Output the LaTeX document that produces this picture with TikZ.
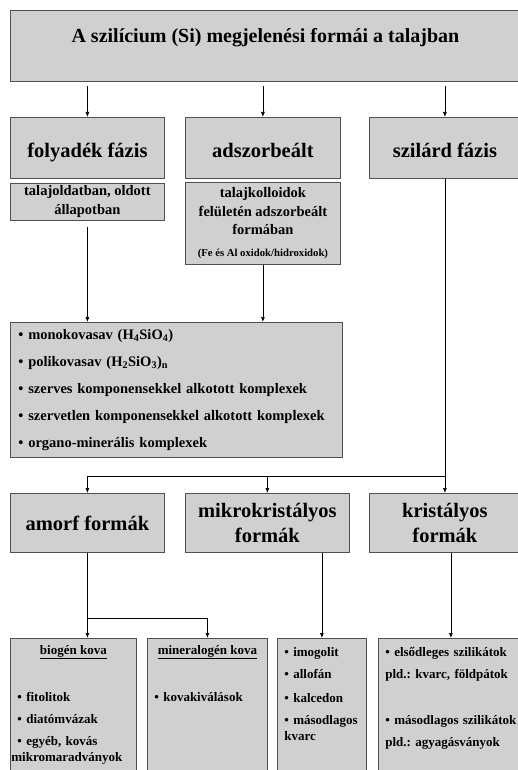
\documentclass[tikz,border=0pt]{standalone}
\usepackage{fontspec}
\setmainfont{Liberation Serif}
\usepackage{tikz}
\frenchspacing
\definecolor{boxgray}{RGB}{208,208,208}
\definecolor{boxline}{RGB}{80,80,80}
\tikzset{
  title_font/.style = {font=\bfseries\fontsize{20}{24}\selectfont},
  head_font/.style = {font=\bfseries\fontsize{20.5}{24.5}\selectfont},
  sub_font/.style = {font=\bfseries\fontsize{14.5}{18.5}\selectfont},
  list_font/.style = {font=\bfseries\fontsize{14.5}{27}\selectfont},
  item_font/.style = {font=\bfseries\fontsize{13}{16.5}\selectfont},
  block_background/.style = {fill=boxgray, draw=boxline, line width=0.8pt}
}
\tikzset{
  title/.style = {title_font, block_background, anchor=north west, inner sep=0,
    minimum width=510, text height=32pt, text depth=39pt},
  head/.style = {head_font, block_background, align=center, anchor=north west,
    inner sep=0, minimum height=59},
  phase/.style = {head, text height=40pt, text depth=21pt},
  sub/.style = {sub_font, block_background, align=center, inner sep=0},
  list/.style = {list_font, block_background, align=left, anchor=north west,
    inner xsep=8, inner ysep=0},
  leaf/.style = {item_font, block_background, align=left, anchor=north west,
    inner xsep=7, inner ysep=0, text depth=150pt},
  leaf_title/.style = {item_font, anchor=base},
  link/.style = {line width=0.7pt},
  arrow/.style = {link, -{Latex[length=5pt, width=4pt]}}
}
\usetikzlibrary{arrows.meta, positioning}

\begin{document}
\begin{tikzpicture}[x=1pt, y=-1pt]{
        \clip (0,0) rectangle (518,770);

        % Title
        \node[title] at (10,10) (si) {A szilícium (Si) megjelenési formái a talajban};

        % Phases
        \node[phase, minimum width=154] at (10,117) (fol) {folyadék fázis};
        \node[phase, minimum width=155] at (185,117) (adsz) {adszorbeált};
        \node[phase, minimum width=151] at (369,117) (szil) {szilárd fázis};

        \node[sub, below=4pt of fol, minimum width=154, minimum height=37] (fol_sub) {
            talajoldatban, oldott\\
            állapotban};
        \node[sub, below=3pt of adsz, minimum width=155, minimum height=82] (adsz_sub) {
            talajkolloidok\\
            felületén adszorbeált\\
            formában\\[3pt]
            {\fontsize{10.7}{13}\selectfont (Fe és Al oxidok/hidroxidok)}};

        % Dissolved forms
        \node[list, minimum width=332, minimum height=135, text width=316] at (10,322) (oldat) {
            • monokovasav (H\textsubscript{4}SiO\textsubscript{4})\\
            • polikovasav (H\textsubscript{2}SiO\textsubscript{3})\textsubscript{n}\\
            • szerves komponensekkel alkotott komplexek\\
            • szervetlen komponensekkel alkotott komplexek\\
            • organo-minerális komplexek};

        % Solid forms
        \node[head, minimum width=154] at (10,493) (amorf) {amorf formák};
        \node[head, minimum width=164] at (185,493) (mikro) {
            mikrokristályos\\
            formák};
        \node[head, minimum width=151] at (369,493) (krist) {
            kristályos\\
            formák};

        % Leaves
        \node[leaf, text width=112, text height=63pt] at (10,638) (biogen) {
            • fitolitok\\[5.5pt]
            • diatómvázak\\[5.5pt]
            • egyéb, kovás\\
            \hspace*{-6pt}mikromaradványok};
        \node[leaf_title] at ([yshift=-16pt]biogen.north) (biogen_t) {\underline{biogén kova}};
        \node[leaf, text width=106, text height=63pt] at (147,638) (mineral) {
            • kovakiválások};
        \node[leaf_title] at ([yshift=-16pt]mineral.north) (mineral_t) {\underline{mineralogén kova}};
        \node[leaf, text width=75, text height=18pt] at (277,638) (imog) {
            • imogolit\\[5.5pt]
            • allofán\\[7.5pt]
            • kalcedon\\[5.5pt]
            • másodlagos\\
            kvarc};
        \node[leaf, text width=131, text height=18pt] at (378,638) (elso) {
            • elsődleges szilikátok\\[5.5pt]
            pld.: kvarc, földpátok\\[29.5pt]
            • másodlagos szilikátok\\[5.5pt]
            pld.: agyagásványok};

        % Arrows and lines
        \coordinate (split) at (szil.south |- 0,476);
        \coordinate (fork) at (amorf.south |- 0,618);

        \draw[arrow, shorten <=4pt] (si.south -| fol.north) -- (fol.north);
        \draw[arrow, shorten <=4pt] (si.south -| adsz.north) -- (adsz.north);
        \draw[arrow, shorten <=4pt] (si.south -| szil.north) -- (szil.north);

        \draw[arrow, shorten <=6pt] (fol_sub.south) -- (fol_sub.south |- oldat.north);
        \draw[arrow] (adsz_sub.south) -- (adsz_sub.south |- oldat.north);

        \draw[link] (szil.south) -- (split);
        \draw[arrow] (split) -| (amorf.north);
        \draw[arrow] (split -| mikro.north) -- (mikro.north);
        \draw[arrow] (split) -- (krist.north);

        \draw[link] (amorf.south) -- (fork);
        \draw[arrow] (fork) -- (fork |- biogen.north);
        \draw[arrow] (fork) -| (mineral.north);
        \draw[arrow] (mikro.south -| imog.north) -- (imog.north);
        \draw[arrow] (krist.south -| elso.north) -- (elso.north);
        }
\end{tikzpicture}
\end{document}
